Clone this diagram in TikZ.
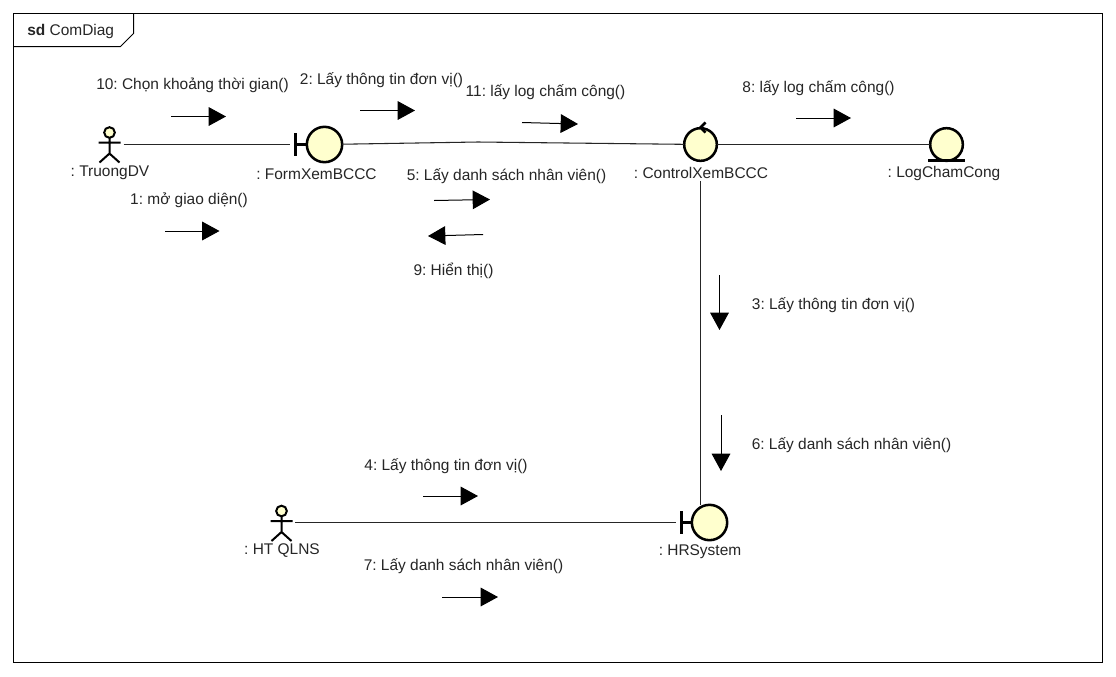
\documentclass[tikz,border=0pt]{standalone}
\usepackage{fontspec}
\setmainfont{Liberation Sans}
\usetikzlibrary{arrows.meta}
\definecolor{ballfill}{RGB}{255,255,206}
\tikzset{
  every picture/.style={x=0.75pt,y=-0.75pt},
  txt/.style={font=\fontsize{11.6pt}{13pt}\selectfont\frenchspacing,inner sep=0pt,text=black!85},
  frame/.style={draw=black,line width=0.75pt},
  glyph/.style={draw=black,line width=1.9pt,line cap=butt},
  ball/.style={circle,draw=black,line width=1.9pt,fill=ballfill,minimum size=26.5pt,inner sep=0pt,outer sep=0pt},
  smallball/.style={ball,minimum size=24.5pt},
  actorbox/.style={inner sep=0pt,minimum width=16.5pt,minimum height=20pt,outer sep=0pt},
  conn/.style={draw=black!85,line width=0.8pt},
  msg/.style={draw=black,line width=0.75pt,-{Triangle[length=13pt,width=14pt]}}
}
\newcommand{\actorglyph}[2]{% x, y of the head
  \draw[line width=1.5pt,fill=ballfill] (#1,#2) circle (4pt);
  \draw[glyph,line width=1.5pt] (#1,#2+5.5) -- (#1,#2+21) (#1-11,#2+10) -- (#1+11,#2+10)
    (#1-10,#2+30) -- (#1,#2+21) -- (#1+10,#2+30);
}
\begin{document}
\begin{tikzpicture}
\useasboundingbox (0,0) rectangle (1116,676);
\fill[white] (0,0) rectangle (1116,676);
% frame
\draw[frame] (13.5,13.5) rectangle (1102.5,662.5);
\draw[frame] (13.5,46.5) -- (120.5,46.5) -- (133.5,33.5) -- (133.5,13.5);
\node[txt,anchor=west] (title) at (27,31.5) {\textbf{sd} ComDiag};
% elements
\node[actorbox] (truong) at (110,148) {};
\actorglyph{109.5}{132.5}
\node[ball] (form) at (324.5,144.5) {};
\node[smallball] (ctrl) at (700.5,144.5) {};
\node[smallball] (log) at (946.5,144.5) {};
\node[actorbox] (qlns) at (282,526) {};
\actorglyph{281.5}{511}
\node[ball] (hr) at (709.5,522.5) {};
% glyph details
\coordinate (formbar) at (295.5,144.5);
\coordinate (hrbar) at (681.5,522.5);
\draw[glyph] (295.5,133) -- (295.5,156) (formbar) -- (form.west);
\draw[glyph] (681.5,511) -- (681.5,534) (hrbar) -- (hr.west);
\draw[glyph] (705.5,122.5) -- (700.5,127.5) -- (705.5,132.5);
\draw[glyph] (928,160.5) -- (965,160.5);
% labels
\node[txt] (ltruong) at (110,173) {: TruongDV};
\node[txt] (lform) at (316.5,174) {: FormXemBCCC};
\node[txt] (lctrl) at (701,173) {: ControlXemBCCC};
\node[txt] (llog) at (944,173) {: LogChamCong};
\node[txt] (lhr) at (700,552) {: HRSystem};
\node[txt] (lqlns) at (282,551) {: HT QLNS};
% connectors
\coordinate (bend) at (478,142);
\draw[conn,shorten <=2pt,shorten >=4.5pt] (truong.east |- form) -- (formbar);
\draw[conn] (form) -- (bend) -- (ctrl);
\draw[conn] (ctrl) -- (log);
\draw[conn] (ctrl.south |- lctrl.south) ++(0,2) -- (ctrl.south |- hr.north);
\draw[conn,shorten <=1.5pt,shorten >=4.5pt] (qlns.east |- hr) -- (hrbar);
% messages
\node[txt] (m10) at (192.5,85.5) {10: Chọn khoảng thời gian()};
\coordinate (a10s) at (171,116.5); \coordinate (a10e) at (226,116.5);
\draw[msg] (a10s) -- (a10e);
\node[txt] (m2) at (381.5,80) {2: Lấy thông tin đơn vị()};
\coordinate (a2s) at (360,110.5); \coordinate (a2e) at (415,110.5);
\draw[msg] (a2s) -- (a2e);
\node[txt] (m11) at (545.5,92) {11: lấy log chấm công()};
\coordinate (a11s) at (522,122.5); \coordinate (a11e) at (578,124);
\draw[msg] (a11s) -- (a11e);
\node[txt] (m8) at (818.5,88) {8: lấy log chấm công()};
\coordinate (a8s) at (796,118); \coordinate (a8e) at (851,118);
\draw[msg] (a8s) -- (a8e);
\node[txt] (m1) at (189,200) {1: mở giao diện()};
\coordinate (a1s) at (165,231); \coordinate (a1e) at (219.5,231);
\draw[msg] (a1s) -- (a1e);
\node[txt] (m5) at (506.5,176) {5: Lấy danh sách nhân viên()};
\coordinate (a5s) at (434,200.5); \coordinate (a5e) at (490,199.5);
\draw[msg] (a5s) -- (a5e);
\node[txt] (m9) at (453.5,271) {9: Hiển thị()};
\coordinate (a9s) at (483,234.5); \coordinate (a9e) at (428,236);
\draw[msg] (a9s) -- (a9e);
\node[txt] (m3) at (833.5,305) {3: Lấy thông tin đơn vị()};
\coordinate (a3s) at (719.5,275); \coordinate (a3e) at (719.5,330);
\draw[msg] (a3s) -- (a3e);
\node[txt] (m6) at (851.5,445) {6: Lấy danh sách nhân viên()};
\coordinate (a6s) at (721,415); \coordinate (a6e) at (721,471);
\draw[msg] (a6s) -- (a6e);
\node[txt] (m4) at (446,466) {4: Lấy thông tin đơn vị()};
\coordinate (a4s) at (423,496); \coordinate (a4e) at (478,496);
\draw[msg] (a4s) -- (a4e);
\node[txt] (m7) at (463.5,566) {7: Lấy danh sách nhân viên()};
\coordinate (a7s) at (442,597); \coordinate (a7e) at (498,597);
\draw[msg] (a7s) -- (a7e);
\end{tikzpicture}
\end{document}
